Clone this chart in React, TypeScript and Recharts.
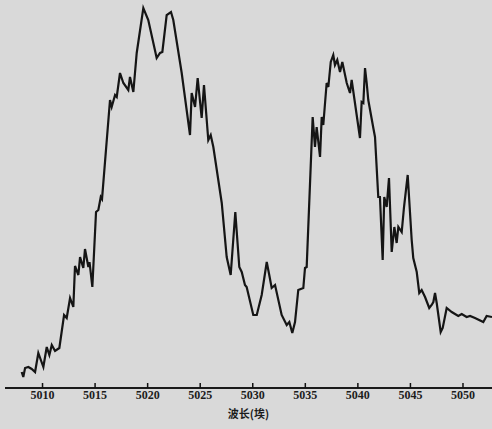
import { Label, Line, LineChart, XAxis, YAxis } from "recharts"

// wavelength (Å) of each traced point
const wavelengths = [
  5008.02, 5008.17, 5008.34, 5008.65, 5008.97, 5009.29, 5009.6, 5010.08, 5010.4, 5010.65,
  5010.88, 5011.19, 5011.6, 5012.05, 5012.3, 5012.62, 5012.93, 5013.09, 5013.41, 5013.57,
  5013.88, 5014.04, 5014.36, 5014.47, 5014.74, 5015.09, 5015.31, 5015.54, 5015.66, 5016.42,
  5016.58, 5016.9, 5017.06, 5017.37, 5017.69, 5018.16, 5018.32, 5018.64, 5018.96, 5019.59,
  5020.06, 5020.86, 5021.18, 5021.4, 5021.81, 5022.22, 5022.44, 5023.24, 5024.03, 5024.19,
  5024.51, 5024.76, 5025.14, 5025.36, 5025.77, 5026.0, 5026.25, 5027.05, 5027.52, 5027.9,
  5028.34, 5028.72, 5028.95, 5029.26, 5029.42, 5030.05, 5030.38, 5030.85, 5031.33, 5031.57,
  5031.8, 5032.12, 5032.75, 5033.23, 5033.48, 5033.76, 5034.02, 5034.33, 5034.81, 5034.97,
  5035.13, 5035.7, 5035.92, 5036.08, 5036.4, 5036.56, 5036.71, 5037.03, 5037.19, 5037.42,
  5037.66, 5037.82, 5038.04, 5038.3, 5038.52, 5038.94, 5039.25, 5039.41, 5040.2, 5040.36,
  5040.52, 5040.68, 5040.84, 5040.99, 5041.47, 5041.63, 5041.94, 5042.1, 5042.36, 5042.51,
  5042.74, 5042.96, 5043.22, 5043.47, 5043.69, 5043.85, 5044.17, 5044.39, 5044.74, 5045.12,
  5045.27, 5045.6, 5045.84, 5046.07, 5046.39, 5046.79, 5047.02, 5047.18, 5047.34, 5047.5,
  5047.88, 5048.07, 5048.45, 5048.93, 5049.55, 5049.88, 5050.35, 5050.67, 5051.14, 5051.93,
  5052.25, 5052.76,
]

// relative intensity at each wavelength
const intensity = [
  16, 11, 20, 21, 19, 16, 35, 21, 41, 33,
  43, 37, 40, 73, 70, 90, 81, 122, 113, 131,
  120, 139, 121, 126, 101, 176, 178, 191, 189, 288,
  281, 293, 291, 315, 305, 298, 311, 296, 335, 380,
  368, 330, 335, 336, 373, 376, 368, 315, 253, 295,
  281, 310, 270, 303, 248, 253, 241, 185, 131, 113,
  176, 121, 116, 103, 101, 73, 73, 93, 126, 113,
  100, 103, 73, 63, 66, 55, 66, 98, 100, 120,
  121, 271, 241, 261, 231, 271, 263, 305, 301, 326,
  333, 323, 328, 316, 326, 305, 295, 308, 250, 286,
  285, 320, 305, 288, 260, 251, 191, 191, 128, 191,
  181, 210, 136, 161, 145, 161, 156, 181, 213, 148,
  130, 116, 95, 98, 91, 80, 83, 86, 95, 85,
  56, 60, 80, 76, 72, 74, 71, 72, 70, 66,
  72, 71,
]

const ticks = [5010, 5015, 5020, 5025, 5030, 5035, 5040, 5045, 5050]

const data = wavelengths.map((w, i) => ({ w, v: intensity[i] }))

const Tick = (props: any) => {
  const { x, y, payload } = props
  return (
    <text
      x={x}
      y={y + 16}
      textAnchor="middle"
      fontSize={12}
      fontFamily="Liberation Serif"
      fontWeight="bold"
      fill="#1c1c1c"
    >
      {payload.value}
    </text>
  )
}

export default function App() {
  return (
    <div style={{ position: "absolute", left: 0, top: 0, width: 492, height: 429, background: "#d9d9d9" }}>
      <LineChart width={492} height={429} data={data} margin={{ top: 0, right: 0, bottom: 0, left: 5 }}>
        <XAxis
          dataKey="w"
          type="number"
          domain={[5006.43, 5052.76]}
          ticks={ticks}
          tickSize={-5}
          tickMargin={0}
          tickLine={{ stroke: "#111", strokeWidth: 1.5 }}
          tick={<Tick />}
          height={41}
          stroke="#1a1a1a"
          strokeWidth={2}
          allowDataOverflow
        >
          <Label
            value="波长(埃)"
            position="insideBottom"
            offset={11}
            fontSize={11}
            fontWeight="bold"
            fontFamily="Noto Sans CJK SC"
            fill="#1c1c1c"
          />
        </XAxis>
        <YAxis hide domain={[0, 388]} width={0} />
        <Line
          type="linear"
          dataKey="v"
          stroke="#151515"
          strokeWidth={2.2}
          dot={false}
          isAnimationActive={false}
        />
      </LineChart>
    </div>
  )
}
